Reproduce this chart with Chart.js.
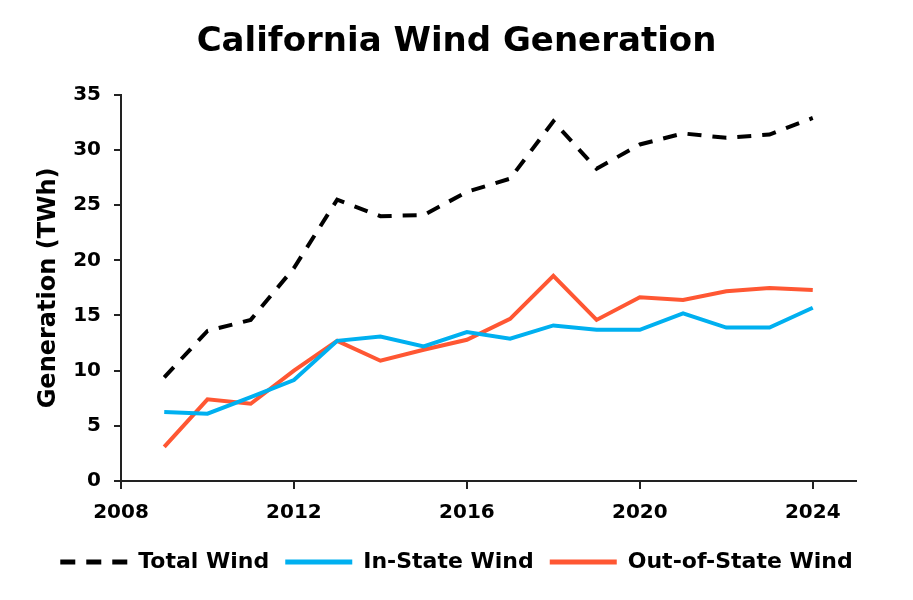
<!DOCTYPE html>
<html>
<head>
<meta charset="utf-8">
<script src="https://cdn.jsdelivr.net/npm/chart.js@4/dist/chart.umd.min.js"></script>
<style>
  html, body { margin: 0; padding: 0; background: #fff; }
  #wrap { width: 913px; height: 600px; }
</style>
</head>
<body>
<div id="wrap"><canvas id="chart"></canvas></div>
<script>
  // valeurs (TWh)
  const years = [2009, 2010, 2011, 2012, 2013, 2014, 2015, 2016, 2017, 2018, 2019, 2020, 2021, 2022, 2023, 2024];
  const totalWind = [9.4, 13.6, 14.6, 19.3, 25.5, 24.0, 24.1, 26.2, 27.4, 32.6, 28.3, 30.5, 31.5, 31.1, 31.4, 32.9];
  const inStateWind = [6.25, 6.1, 7.6, 9.15, 12.7, 13.1, 12.2, 13.5, 12.9, 14.1, 13.7, 13.7, 15.2, 13.9, 13.9, 15.7];
  const outOfStateWind = [3.1, 7.4, 7.0, 10.0, 12.7, 10.9, 11.9, 12.8, 14.7, 18.6, 14.6, 16.65, 16.4, 17.2, 17.5, 17.3];
  const xTicks = [2008, 2012, 2016, 2020, 2024];

  const FONT = "'DejaVu Sans', sans-serif";
  const points = (vals) => years.map((y, i) => ({ x: y, y: vals[i] }));

  new Chart(document.getElementById("chart"), {
    type: "line",
    data: {
      datasets: [
        {
          label: "Total Wind",
          data: points(totalWind),
          borderColor: "#000000",
          backgroundColor: "#000000",
          borderWidth: 4,
          borderDash: [14, 11],
          pointRadius: 0,
          pointStyle: "line",
          tension: 0,
        },
        {
          label: "In-State Wind",
          data: points(inStateWind),
          borderColor: "#00B0F0",
          backgroundColor: "#00B0F0",
          borderWidth: 4,
          pointRadius: 0,
          pointStyle: "line",
          tension: 0,
        },
        {
          label: "Out-of-State Wind",
          data: points(outOfStateWind),
          borderColor: "#FF5733",
          backgroundColor: "#FF5733",
          borderWidth: 4,
          pointRadius: 0,
          pointStyle: "line",
          tension: 0,
        },
      ],
    },
    options: {
      responsive: true,
      maintainAspectRatio: false,
      animation: false,
      layout: { padding: { left: 0, right: 0, top: 0, bottom: 17 } },
      plugins: {
        title: {
          display: true,
          text: "California Wind Generation",
          color: "#000",
          font: { family: FONT, size: 34, weight: "bold" },
          padding: { top: 22, bottom: 32 },
        },
        legend: {
          position: "bottom",
          labels: {
            color: "#000",
            font: { family: FONT, size: 22, weight: "bold" },
            usePointStyle: true,
            pointStyleWidth: 67,
            padding: 16,
            // le pointillé du jeu de données n'est pas repris quand usePointStyle est actif
            generateLabels: (chart) => {
              const items = Chart.defaults.plugins.legend.labels.generateLabels(chart);
              items.forEach((item) => {
                const ds = chart.data.datasets[item.datasetIndex];
                item.lineWidth = 5;
                item.strokeStyle = ds.borderColor;
                item.lineDash = ds.borderDash ? [15, 11] : [];
              });
              return items;
            },
          },
        },
        tooltip: { enabled: false },
      },
      scales: {
        x: {
          type: "linear",
          min: 2008,
          max: 2025,
          afterFit: (scale) => { scale.height = 54; },
          afterBuildTicks: (scale) => { scale.ticks = xTicks.map((v) => ({ value: v })); },
          ticks: {
            color: "#000",
            font: { family: FONT, size: 20, weight: "bold" },
            padding: 12,
            maxRotation: 0,
            callback: (v) => String(v),
          },
          grid: { drawOnChartArea: false, drawTicks: true, tickLength: 8, color: "#222", lineWidth: 2 },
          border: { display: true, color: "#222", width: 2 },
        },
        y: {
          min: 0,
          max: 35,
          afterFit: (scale) => { scale.width = 121; },
          ticks: {
            stepSize: 5,
            color: "#000",
            font: { family: FONT, size: 20, weight: "bold" },
            padding: 13,
          },
          title: {
            display: true,
            text: "Generation (TWh)",
            color: "#000",
            font: { family: FONT, size: 24, weight: "bold" },
            padding: { top: 34, bottom: 0 },
          },
          grid: { drawOnChartArea: false, drawTicks: true, tickLength: 7, color: "#222", lineWidth: 2 },
          border: { display: true, color: "#222", width: 2 },
        },
        // marge droite vide pour que le titre reste centré sur la page
        yRight: {
          position: "right",
          afterFit: (scale) => { scale.width = 57; },
          ticks: { display: false },
          grid: { display: false },
          border: { display: false },
        },
      },
    },
  });
</script>
</body>
</html>
